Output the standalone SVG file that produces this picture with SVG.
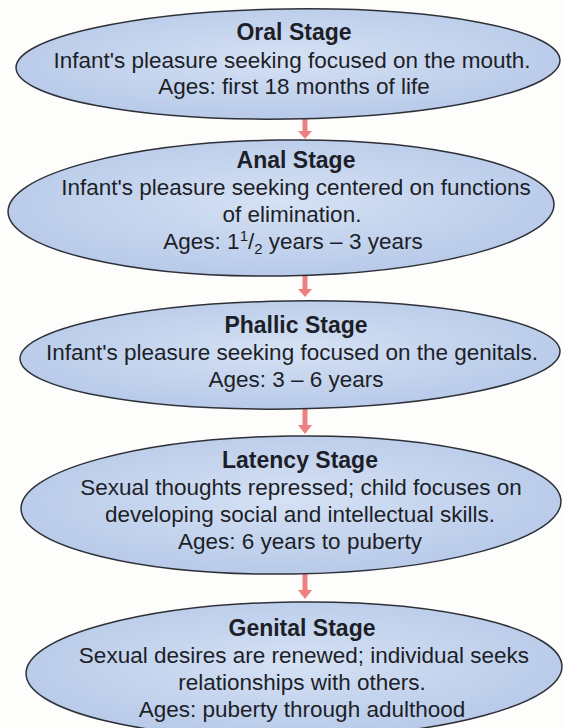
<svg xmlns="http://www.w3.org/2000/svg" width="563" height="728" viewBox="0 0 563 728">
<defs>
<radialGradient id="g" cx="50%" cy="45%" r="60%">
<stop offset="0" stop-color="#d5e1f4"/>
<stop offset="1" stop-color="#b5c8e8"/>
</radialGradient>
</defs>
<style>
.e{fill:url(#g);stroke:#2e3038;stroke-width:1.5}
text{font-family:"Liberation Sans",Arial,sans-serif;font-size:22.5px;fill:#1d1f28;text-anchor:middle}
.t{font-weight:bold;font-size:23px}
.c{stroke:#f07f80;stroke-width:5;fill:none}
.h{fill:#f07f80}
</style>
<rect width="563" height="728" fill="#fdfdfb"/>
<g id="connectors">
<line class="c" x1="305" y1="119" x2="305" y2="134"/>
<path class="h" d="M298,131 L312,131 L305,139 Z"/>
<line class="c" x1="305" y1="276" x2="305" y2="292"/>
<path class="h" d="M298,289 L312,289 L305,297 Z"/>
<line class="c" x1="305" y1="409" x2="305" y2="428"/>
<path class="h" d="M298,425 L312,425 L305,434 Z"/>
<line class="c" x1="305" y1="574" x2="305" y2="593"/>
<path class="h" d="M298,590 L312,590 L305,599 Z"/>
</g>
<g id="oral">
<ellipse class="e" cx="288" cy="64" rx="272" ry="55" transform="rotate(-0.8 288 64)"/>
<text class="t" x="294" y="40">Oral Stage</text>
<text x="292" y="68">Infant's pleasure seeking focused on the mouth.</text>
<text x="294" y="94">Ages: first 18 months of life</text>
</g>
<g id="anal">
<ellipse class="e" cx="281" cy="208" rx="273" ry="68" transform="rotate(-0.8 281 208)"/>
<text class="t" x="296" y="168">Anal Stage</text>
<text x="296" y="195">Infant's pleasure seeking centered on functions</text>
<text x="292" y="222">of elimination.</text>
<text x="293" y="249">Ages: 1<tspan font-size="15" dy="-8">1</tspan><tspan dy="8">/</tspan><tspan font-size="15" dy="5">2</tspan><tspan dy="-5"> years – 3 years</tspan></text>
</g>
<g id="phallic">
<ellipse class="e" cx="290" cy="355" rx="270" ry="54" transform="rotate(-0.8 290 355)"/>
<text class="t" x="296" y="333">Phallic Stage</text>
<text x="292" y="360">Infant's pleasure seeking focused on the genitals.</text>
<text x="296" y="387">Ages: 3 – 6 years</text>
</g>
<g id="latency">
<ellipse class="e" cx="291" cy="505" rx="270" ry="69" transform="rotate(-0.8 291 505)"/>
<text class="t" x="300" y="468">Latency Stage</text>
<text x="301" y="495">Sexual thoughts repressed; child focuses on</text>
<text x="300" y="522">developing social and intellectual skills.</text>
<text x="300" y="549">Ages: 6 years to puberty</text>
</g>
<g id="genital">
<ellipse class="e" cx="294" cy="670" rx="268" ry="68" transform="rotate(-0.8 294 670)"/>
<text class="t" x="302" y="636">Genital Stage</text>
<text x="304" y="663">Sexual desires are renewed; individual seeks</text>
<text x="302" y="690">relationships with others.</text>
<text x="302" y="717">Ages: puberty through adulthood</text>
</g>
</svg>
